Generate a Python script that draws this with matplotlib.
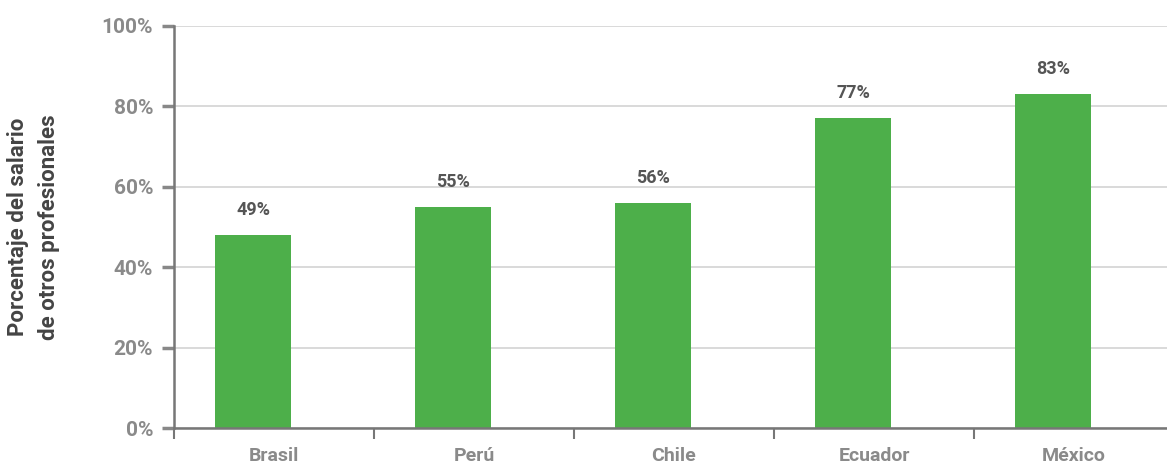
import matplotlib.pyplot as plt
from matplotlib.ticker import FixedLocator

paises = ["Brasil", "Perú", "Chile", "Ecuador", "México"]
porcentajes = [48, 55, 56, 77, 83]
etiquetas = ["49%", "55%", "56%", "77%", "83%"]
yticks = [0, 20, 40, 60, 80, 100]

plt.rcParams["font.family"] = ["Roboto", "DejaVu Sans"]

fig = plt.figure(figsize=(11.67, 4.66), dpi=100)
ax = fig.add_axes([174 / 1167, 38 / 466, 993 / 1167, 402 / 466])

xs = list(range(len(paises)))
# bars sit a little left of the category centre, as in the original
xb = [x - 0.105 for x in xs]
ax.bar(xb, porcentajes, width=0.38, color="#4daf4a", zorder=3)
for x, v, t in zip(xb, porcentajes, etiquetas):
    ax.text(x, v + 4, t, ha="center", va="bottom", fontsize=13,
            fontweight="bold", color="#555555")

ax.set_xlim(-0.5, -0.5 + 993 / 200)
ax.set_ylim(0, 100)
ax.set_yticks(yticks)
ax.set_yticklabels([f"{v}%" for v in yticks])
ax.yaxis.grid(True, color="#d3d3d3", linewidth=1.2, zorder=0)

ax.set_xticks(xs)
ax.set_xticklabels(paises)
ax.xaxis.set_minor_locator(FixedLocator([i - 0.5 for i in range(len(paises) + 1)]))
ax.tick_params(axis="x", which="major", length=0, pad=14, labelsize=14,
               labelcolor="#8a8a8a")
ax.tick_params(axis="x", which="minor", length=8, width=1.5, color="#777777")
ax.tick_params(axis="y", length=9, width=2.5, color="#888888", pad=6,
               labelsize=15, labelcolor="#8a8a8a")
for lab in ax.get_xticklabels() + ax.get_yticklabels():
    lab.set_fontweight("bold")

for s in ["top", "right"]:
    ax.spines[s].set_visible(False)
for s in ["left", "bottom"]:
    ax.spines[s].set_color("#777777")
    ax.spines[s].set_linewidth(1.8)
    ax.spines[s].set_zorder(4)

ax.set_ylabel("Porcentaje del salario\nde otros profesionales", fontsize=16,
              fontweight="bold", color="#444444", labelpad=30, linespacing=1.5)

fig.savefig("out.png", dpi=100)
